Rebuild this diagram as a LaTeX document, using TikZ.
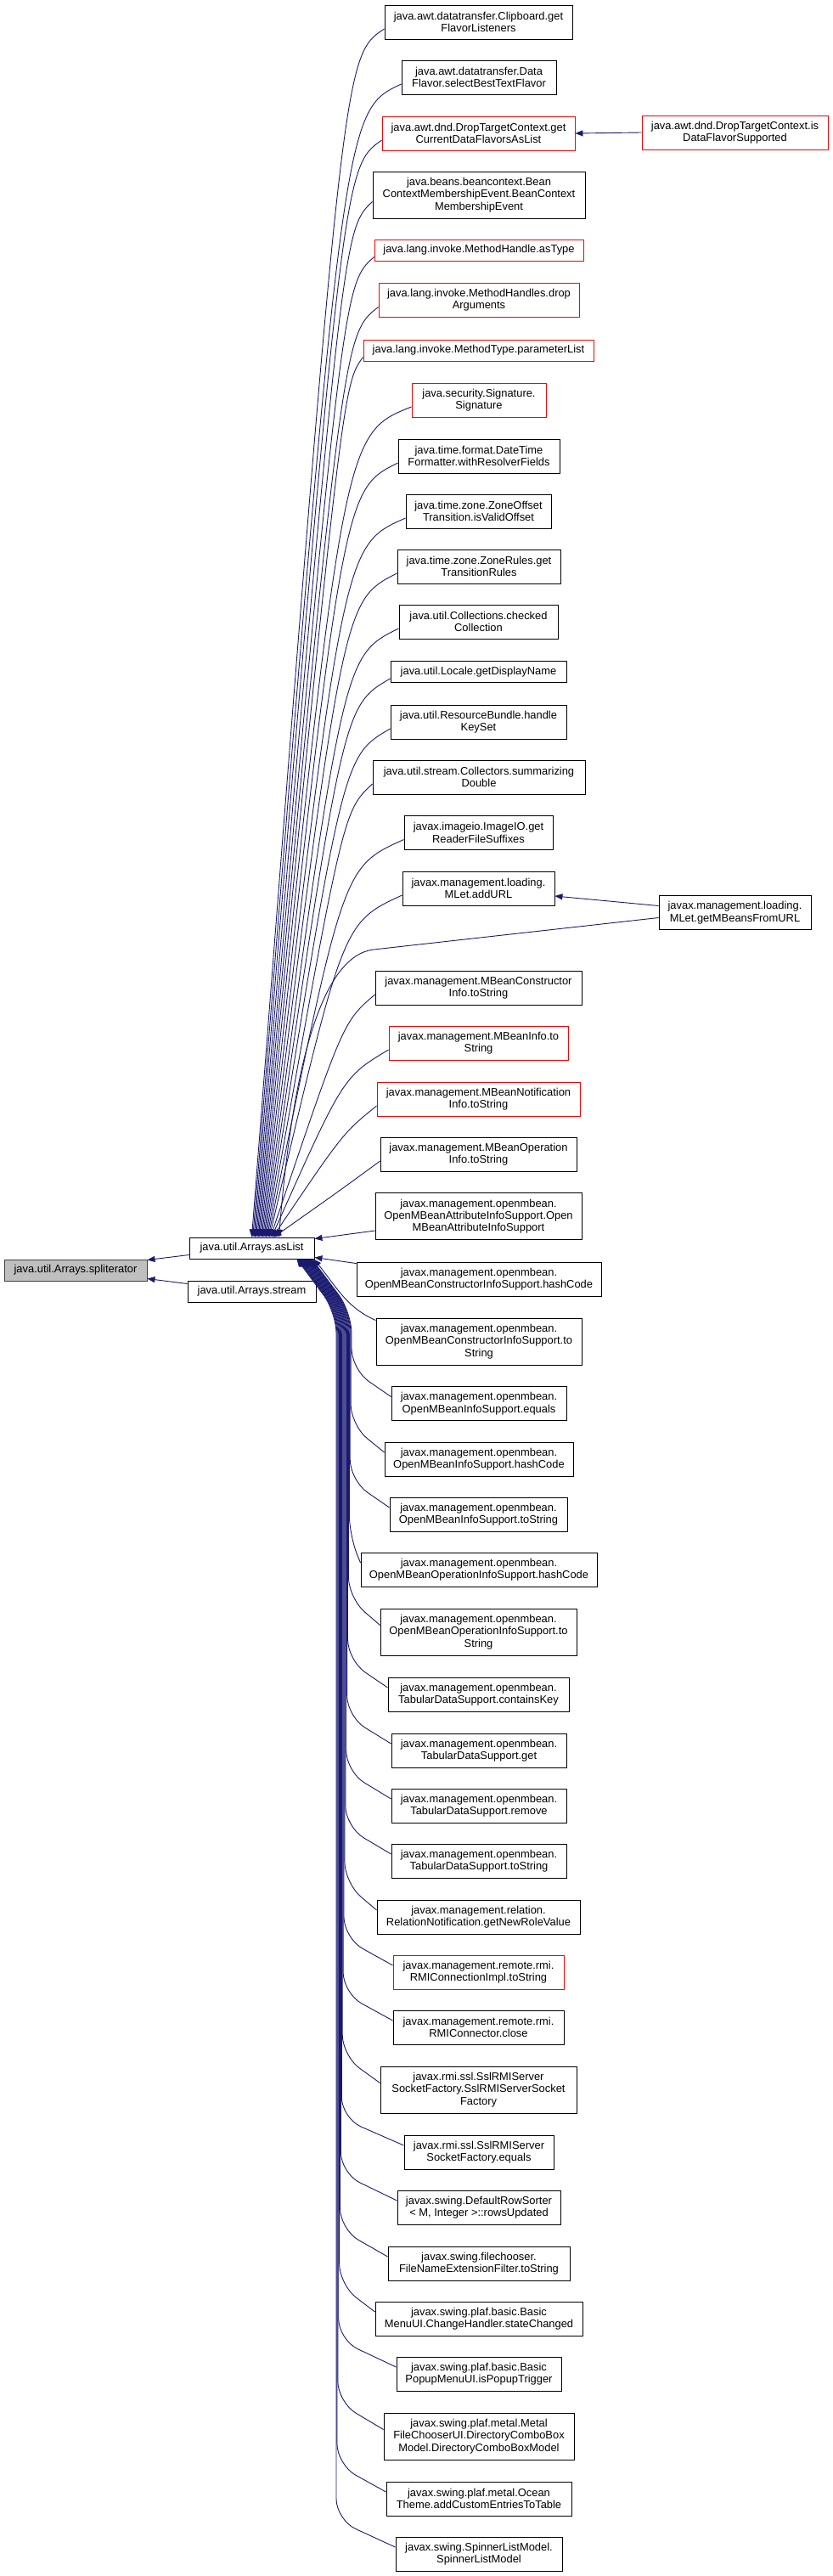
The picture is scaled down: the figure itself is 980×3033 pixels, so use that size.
\documentclass[tikz,border=0pt]{standalone}
\usepackage{fontspec}
\setmainfont{Liberation Sans}
\usetikzlibrary{arrows.meta}
\definecolor{edgeblue}{HTML}{191970}
\definecolor{rootgray}{HTML}{BFBFBF}
\newcommand{\dxfont}{\fontsize{12.9}{14.3}\selectfont}

\begin{document}
\begin{tikzpicture}[
    x=1pt, y=-1pt,
    box/.style={draw=black, fill=white, line width=0.9pt, inner sep=0pt, align=center, font=\dxfont},
    redbox/.style={box, draw=red},
    rootbox/.style={box, fill=rootgray, draw=black!75},
    oneline/.style={minimum height=25pt},
    twoline/.style={minimum height=40pt},
    threeline/.style={minimum height=55pt},
    edge/.style={<-, >={Triangle[length=9pt,width=7pt]}, draw=edgeblue, line width=0.9pt},
]
  \useasboundingbox (0,0) rectangle (980,3033);

  % root and direct callers
  \node[rootbox, oneline, minimum width=168pt] (spliter) at (89,1495.5) {java.util.Arrays.spliterator};
  \node[box, oneline, minimum width=147pt] (aslist) at (296.5,1469.5) {java.util.Arrays.asList};
  \node[box, oneline, minimum width=151pt] (stream) at (296.5,1520.5) {java.util.Arrays.stream};

  % callers of asList
  \node[box, twoline, minimum width=221pt] (clip) at (563.5,26) {java.awt.datatransfer.Clipboard.get\\FlavorListeners};
  \node[box, twoline, minimum width=182pt] (dflav) at (564,91) {java.awt.datatransfer.Data\\Flavor.selectBestTextFlavor};
  \node[redbox, twoline, minimum width=227pt] (dtget) at (563.5,157) {java.awt.dnd.DropTargetContext.get\\CurrentDataFlavorsAsList};
  \node[box, threeline, minimum width=250pt] (bcme) at (564,229.5) {java.beans.beancontext.Bean\\ContextMembershipEvent.BeanContext\\MembershipEvent};
  \node[redbox, oneline, minimum width=246pt] (astype) at (564,294.5) {java.lang.invoke.MethodHandle.asType};
  \node[redbox, twoline, minimum width=236pt] (dropargs) at (564,353.5) {java.lang.invoke.MethodHandles.drop\\Arguments};
  \node[redbox, oneline, minimum width=271pt] (paramlist) at (563.5,412.5) {java.lang.invoke.MethodType.parameterList};
  \node[redbox, twoline, minimum width=158pt] (signature) at (564,471) {java.security.Signature.\\Signature};
  \node[box, twoline, minimum width=190pt] (resolver) at (564,537) {java.time.format.DateTime\\Formatter.withResolverFields};
  \node[box, twoline, minimum width=171pt] (validoffset) at (563.5,602) {java.time.zone.ZoneOffset\\Transition.isValidOffset};
  \node[box, twoline, minimum width=192pt] (transrules) at (564,667) {java.time.zone.ZoneRules.get\\TransitionRules};
  \node[box, twoline, minimum width=187pt] (checkedcoll) at (563.5,732) {java.util.Collections.checked\\Collection};
  \node[box, oneline, minimum width=207pt] (dispname) at (563.5,791) {java.util.Locale.getDisplayName};
  \node[box, twoline, minimum width=207pt] (keyset) at (563.5,850) {java.util.ResourceBundle.handle\\KeySet};
  \node[box, twoline, minimum width=250pt] (sumdouble) at (564,915) {java.util.stream.Collectors.summarizing\\Double};
  \node[box, twoline, minimum width=175pt] (suffixes) at (563.5,980.5) {javax.imageio.ImageIO.get\\ReaderFileSuffixes};
  \node[box, twoline, minimum width=179pt] (addurl) at (563.5,1046) {javax.management.loading.\\MLet.addURL};
  \node[box, twoline, minimum width=243pt] (mbcons) at (563.5,1163) {javax.management.MBeanConstructor\\Info.toString};
  \node[redbox, twoline, minimum width=211pt] (mbinfo) at (563.5,1228) {javax.management.MBeanInfo.to\\String};
  \node[redbox, twoline, minimum width=239pt] (mbnotif) at (563.5,1294) {javax.management.MBeanNotification\\Info.toString};
  \node[box, twoline, minimum width=231pt] (mbop) at (563.5,1359) {javax.management.MBeanOperation\\Info.toString};
  \node[box, threeline, minimum width=243pt] (omattr) at (563.5,1432) {javax.management.openmbean.\\OpenMBeanAttributeInfoSupport.Open\\MBeanAttributeInfoSupport};
  \node[box, twoline, minimum width=288pt] (omchash) at (564,1506) {javax.management.openmbean.\\OpenMBeanConstructorInfoSupport.hashCode};
  \node[box, threeline, minimum width=242pt] (omcstr) at (564,1579.5) {javax.management.openmbean.\\OpenMBeanConstructorInfoSupport.to\\String};
  \node[box, twoline, minimum width=206pt] (omiequals) at (564,1652.5) {javax.management.openmbean.\\OpenMBeanInfoSupport.equals};
  \node[box, twoline, minimum width=222pt] (omihash) at (564,1718) {javax.management.openmbean.\\OpenMBeanInfoSupport.hashCode};
  \node[box, twoline, minimum width=209pt] (omistr) at (563.5,1783) {javax.management.openmbean.\\OpenMBeanInfoSupport.toString};
  \node[box, twoline, minimum width=278pt] (omohash) at (564,1848) {javax.management.openmbean.\\OpenMBeanOperationInfoSupport.hashCode};
  \node[box, threeline, minimum width=231pt] (omostr) at (563.5,1921.5) {javax.management.openmbean.\\OpenMBeanOperationInfoSupport.to\\String};
  \node[box, twoline, minimum width=213pt] (tdkey) at (563.5,1995) {javax.management.openmbean.\\TabularDataSupport.containsKey};
  \node[box, twoline, minimum width=206pt] (tdget) at (564,2061) {javax.management.openmbean.\\TabularDataSupport.get};
  \node[box, twoline, minimum width=206pt] (tdremove) at (564,2126) {javax.management.openmbean.\\TabularDataSupport.remove};
  \node[box, twoline, minimum width=206pt] (tdstr) at (564,2191) {javax.management.openmbean.\\TabularDataSupport.toString};
  \node[box, twoline, minimum width=239pt] (newrole) at (563.5,2257) {javax.management.relation.\\RelationNotification.getNewRoleValue};
  \node[redbox, twoline, minimum width=201pt] (rmiimpl) at (563.5,2322) {javax.management.remote.rmi.\\RMIConnectionImpl.toString};
  \node[box, twoline, minimum width=201pt] (rmiclose) at (563.5,2387) {javax.management.remote.rmi.\\RMIConnector.close};
  \node[box, threeline, minimum width=231pt] (sslctor) at (563.5,2460.5) {javax.rmi.ssl.SslRMIServer\\SocketFactory.SslRMIServerSocket\\Factory};
  \node[box, twoline, minimum width=176pt] (sslequals) at (564,2534) {javax.rmi.ssl.SslRMIServer\\SocketFactory.equals};
  \node[box, twoline, minimum width=192pt] (rowsupd) at (564,2599) {javax.swing.DefaultRowSorter\\< M, Integer >::rowsUpdated};
  \node[box, twoline, minimum width=214pt] (extfilter) at (564,2665) {javax.swing.filechooser.\\FileNameExtensionFilter.toString};
  \node[box, twoline, minimum width=244pt] (menuui) at (564,2730) {javax.swing.plaf.basic.Basic\\MenuUI.ChangeHandler.stateChanged};
  \node[box, twoline, minimum width=194pt] (popupui) at (564,2795) {javax.swing.plaf.basic.Basic\\PopupMenuUI.isPopupTrigger};
  \node[box, threeline, minimum width=224pt] (dircombo) at (564,2868.5) {javax.swing.plaf.metal.Metal\\FileChooserUI.DirectoryComboBox\\Model.DirectoryComboBoxModel};
  \node[box, twoline, minimum width=218pt] (ocean) at (564,2942) {javax.swing.plaf.metal.Ocean\\Theme.addCustomEntriesToTable};
  \node[box, twoline, minimum width=196pt] (spinner) at (564,3007) {javax.swing.SpinnerListModel.\\SpinnerListModel};

  % second level callers
  \node[redbox, twoline, minimum width=219pt] (dfsupp) at (865.5,156) {java.awt.dnd.DropTargetContext.is\\DataFlavorSupported};
  \node[box, twoline, minimum width=179pt] (mbeansurl) at (865.5,1074.5) {javax.management.loading.\\MLet.getMBeansFromURL};

  % edges
  \draw[edge] ([yshift=12pt]spliter.east) -- ([yshift=-8pt]aslist.west);
  \draw[edge] ([yshift=-10pt]spliter.east) -- ([yshift=9pt]stream.west);
  \draw[edge] (dtget.east) -- (dfsupp.west);
  \draw[edge] ([yshift=-9pt]addurl.east) -- ([yshift=8pt]mbeansurl.west);
  \draw[edge] ([xshift=32pt]aslist.north) .. controls (345,1250) and (380,1125) .. (440,1118) -- ([yshift=-6pt]mbeansurl.west);

  \foreach \n/\vy [count=\i] in {clip/66, dflav/131, dtget/197, bcme/269.5, astype/334.5,
      dropargs/393.5, paramlist/452.5, signature/511, resolver/577, validoffset/642,
      transrules/707, checkedcoll/772, dispname/831, keyset/890, sumdouble/955,
      suffixes/1020.5, addurl/1086, mbcons/1203, mbinfo/1268, mbnotif/1334, mbop/1399}
    \draw[edge] ([xshift={1.3*(\i-1)}]aslist.north) .. controls (404,\vy) and (404,\vy) .. ([yshift=-8pt]\n.west);

  \draw[edge] ([yshift=11pt]aslist.east) -- ([yshift=-17pt]omattr.west);
  \draw[edge] ([yshift=-11pt]aslist.east) -- ([yshift=-2pt]omchash.north west);
  \draw[edge] ([xshift=-1pt]aslist.south east) .. controls +(25,30) and +(-35,-15) .. ([yshift=-3pt]omcstr.north west);

  \foreach \n/\vy [count=\i] in {omiequals/1612.5, omihash/1678, omistr/1743, omohash/1808,
      omostr/1881.5, tdkey/1955, tdget/2021, tdremove/2086, tdstr/2151, newrole/2217,
      rmiimpl/2282, rmiclose/2347, sslctor/2420.5, sslequals/2494, rowsupd/2559,
      extfilter/2625, menuui/2690, popupui/2755, dircombo/2828.5, ocean/2902, spinner/2967}
    \draw[edge, rounded corners=25pt] ([xshift={-2-0.9*\i}]aslist.south east)
      -- ({414.9-0.9*\i},1545) -- ({414.9-0.9*\i},\vy) -- ([yshift=8pt]\n.west);
\end{tikzpicture}
\end{document}
